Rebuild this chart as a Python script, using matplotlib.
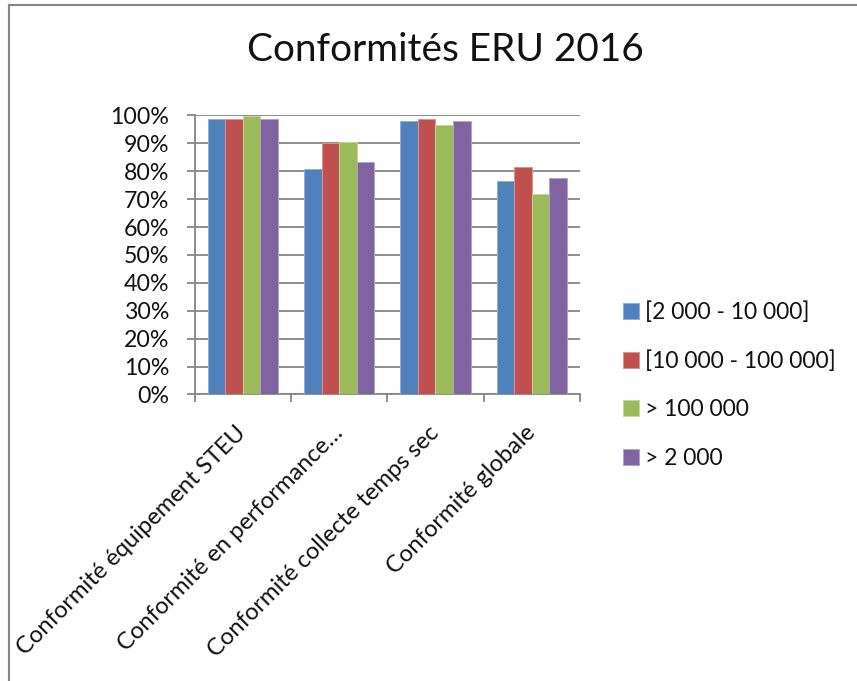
import matplotlib
matplotlib.use("Agg")
import matplotlib.pyplot as plt
import numpy as np
from matplotlib.lines import Line2D
from matplotlib.ticker import FixedLocator

# Categories and series (percent)
categories = [
    "Conformité équipement STEU",
    "Conformité en performance…",
    "Conformité collecte temps sec",
    "Conformité globale",
]
series_names = ["[2 000 - 10 000]", "[10 000 - 100 000]", "> 100 000", "> 2 000"]
s_2k_10k = [98.6, 80.9, 98.1, 76.7]
s_10k_100k = [98.8, 90.1, 98.8, 81.6]
s_100k = [99.9, 90.6, 96.7, 71.8]
s_2k = [98.8, 83.5, 98.2, 77.7]
y_ticks = [0, 10, 20, 30, 40, 50, 60, 70, 80, 90, 100]

series = [s_2k_10k, s_10k_100k, s_100k, s_2k]
colors = ["#4F81BD", "#C0504D", "#9BBB59", "#8064A2"]
edges = ["#8FB0D8", "#DC9492", "#C3D89B", "#B3A2CB"]

plt.rcParams["font.family"] = ["Lato", "DejaVu Sans"]
GRAY = "#868686"

W, H = 857, 681
fig = plt.figure(figsize=(W / 100, H / 100), dpi=100)

x0, x1 = 194.5, 580.0
y0, y1 = 394.5, 115.5
ax = fig.add_axes([x0 / W, 1 - y0 / H, (x1 - x0) / W, (y0 - y1) / H])

xc = np.arange(len(categories)) + 0.5
bw = 0.182
bars = []
for i, (vals, c, ec, name) in enumerate(zip(series, colors, edges, series_names)):
    b = ax.bar(xc + (i - 1.5) * bw, vals, bw, color=c, edgecolor=ec,
               linewidth=0.7, label=name, zorder=3)
    bars.append(b)

ax.set_xlim(0, len(categories))
ax.set_ylim(0, 100)

# horizontal gridlines
ax.set_yticks(y_ticks)
ax.set_yticklabels([f"{v}%" for v in y_ticks], fontsize=16.7, color="#111111")
ax.yaxis.grid(True, color=GRAY, linewidth=1.3, zorder=0)
ax.set_axisbelow(True)

# category labels at group centres, ticks at group boundaries
ax.set_xticks(xc)
ax.set_xticklabels(categories, rotation=45, ha="right", va="center",
                   rotation_mode="anchor", fontsize=17.1, color="#111111")
ax.tick_params(axis="x", which="major", length=0, pad=25)
ax.xaxis.set_minor_locator(FixedLocator(np.arange(len(categories) + 1)))
ax.tick_params(axis="x", which="minor", length=6, width=1.3, color=GRAY, direction="out")
ax.tick_params(axis="y", length=6, width=1.3, color=GRAY, direction="out", pad=12)

for s in ("top", "right"):
    ax.spines[s].set_visible(False)
for s in ("left", "bottom"):
    ax.spines[s].set_color(GRAY)
    ax.spines[s].set_linewidth(1.3)

fig.text(445 / W, 1 - 50 / H, "Conformités ERU 2016", ha="center", va="center",
         fontsize=27.9, color="#111111")

leg = fig.legend(handles=bars, labels=series_names, loc="center left",
                 bbox_to_anchor=(623 / W, 1 - 385 / H), frameon=False,
                 fontsize=16.5, handlelength=0.68, handleheight=0.68,
                 handletextpad=0.3, labelspacing=1.2, borderpad=0,
                 borderaxespad=0)
for t in leg.get_texts():
    t.set_color("#111111")

# chart frame
fig.add_artist(Line2D([8.5 / W, 1], [1 - 4.5 / H] * 2, transform=fig.transFigure,
                      color=GRAY, linewidth=1.5))
fig.add_artist(Line2D([8.5 / W] * 2, [0, 1 - 4.5 / H], transform=fig.transFigure,
                      color=GRAY, linewidth=1.5))

fig.savefig("out.png", dpi=100)
